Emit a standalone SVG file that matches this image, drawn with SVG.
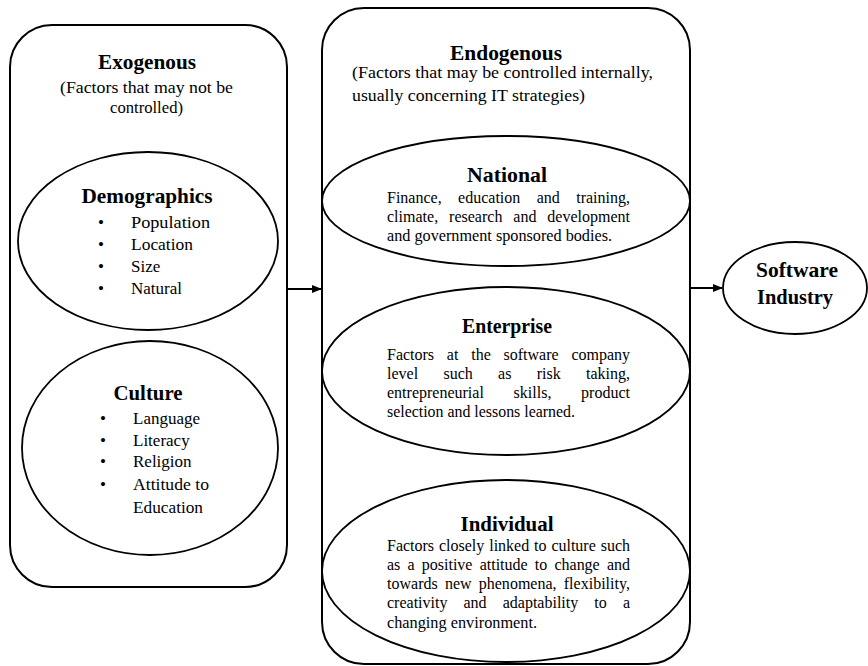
<svg xmlns="http://www.w3.org/2000/svg" width="868" height="666" viewBox="0 0 868 666">
<style>
.box{fill:none;stroke:#000;stroke-width:2}
.ell{fill:none;stroke:#000;stroke-width:1.8}
.h{font-size:21px;font-weight:bold;text-anchor:middle}
.s{font-size:17px}
.b{font-size:16px}
.conn{stroke:#000;stroke-width:2;fill:none}
</style>
<defs>
<marker id="ah" markerWidth="10" markerHeight="8" refX="9" refY="4" orient="auto" markerUnits="userSpaceOnUse">
<path d="M0,0 L10,4 L0,8 z" fill="#000"/>
</marker>
</defs>
<rect width="868" height="666" fill="#fff"/>

<g id="exogenous" font-family="Liberation Serif, serif">
<rect class="box" x="10" y="25" width="277" height="562" rx="42" ry="42"/>
<text class="h" x="147" y="69" textLength="98" lengthAdjust="spacingAndGlyphs">Exogenous</text>
<text class="s" x="60" y="93" textLength="173" lengthAdjust="spacingAndGlyphs">(Factors that may not be</text>
<text class="s" x="110" y="113" textLength="73" lengthAdjust="spacingAndGlyphs">controlled)</text>
</g>

<g id="demographics" font-family="Liberation Serif, serif">
<ellipse class="ell" cx="148" cy="241" rx="130" ry="89"/>
<text class="h" x="147" y="203" textLength="131" lengthAdjust="spacingAndGlyphs">Demographics</text>
<g class="s">
<text x="98" y="228">•</text><text x="131" y="228" textLength="79" lengthAdjust="spacingAndGlyphs">Population</text>
<text x="98" y="250">•</text><text x="131" y="250" textLength="62" lengthAdjust="spacingAndGlyphs">Location</text>
<text x="98" y="272">•</text><text x="131" y="272">Size</text>
<text x="98" y="294">•</text><text x="131" y="294">Natural</text>
</g>
</g>

<g id="culture" font-family="Liberation Serif, serif">
<ellipse class="ell" cx="150" cy="448" rx="128" ry="107"/>
<text class="h" x="148" y="400" textLength="69" lengthAdjust="spacingAndGlyphs">Culture</text>
<g class="s">
<text x="100" y="424">•</text><text x="133" y="424">Language</text>
<text x="100" y="446">•</text><text x="133" y="446">Literacy</text>
<text x="100" y="467">•</text><text x="133" y="467">Religion</text>
<text x="100" y="490">•</text><text x="133" y="490" textLength="76" lengthAdjust="spacingAndGlyphs">Attitude to</text>
<text x="133" y="513" textLength="70" lengthAdjust="spacingAndGlyphs">Education</text>
</g>
</g>

<g id="endogenous" font-family="Liberation Serif, serif">
<rect class="box" x="322" y="8" width="368" height="656" rx="42" ry="42"/>
<text class="h" x="506" y="60" textLength="112" lengthAdjust="spacingAndGlyphs">Endogenous</text>
<text class="s" x="352" y="78" textLength="301" lengthAdjust="spacingAndGlyphs">(Factors that may be controlled internally,</text>
<text class="s" x="352" y="101" textLength="233" lengthAdjust="spacingAndGlyphs">usually concerning IT strategies)</text>
</g>

<g id="national" font-family="Liberation Serif, serif">
<ellipse class="ell" cx="506" cy="201" rx="184" ry="65"/>
<text class="h" x="507" y="182" textLength="80" lengthAdjust="spacingAndGlyphs">National</text>
<g class="b">
<text x="387" y="203" word-spacing="12.4" textLength="243" lengthAdjust="spacing">Finance, education and training,</text>
<text x="387" y="222" word-spacing="6.9" textLength="243" lengthAdjust="spacing">climate, research and development</text>
<text x="387" y="241" textLength="225" lengthAdjust="spacingAndGlyphs">and government sponsored bodies.</text>
</g>
</g>

<g id="enterprise" font-family="Liberation Serif, serif">
<ellipse class="ell" cx="506" cy="371" rx="184" ry="84"/>
<text class="h" x="507" y="333" textLength="90" lengthAdjust="spacingAndGlyphs">Enterprise</text>
<g class="b">
<text x="387" y="360" word-spacing="8.8" textLength="243" lengthAdjust="spacing">Factors at the software company</text>
<text x="387" y="379" word-spacing="21.3" textLength="243" lengthAdjust="spacing">level such as risk taking,</text>
<text x="387" y="398" word-spacing="25.7" textLength="243" lengthAdjust="spacing">entrepreneurial skills, product</text>
<text x="387" y="417" textLength="188" lengthAdjust="spacingAndGlyphs">selection and lessons learned.</text>
</g>
</g>

<g id="individual" font-family="Liberation Serif, serif">
<ellipse class="ell" cx="506" cy="571" rx="184" ry="91"/>
<text class="h" x="507" y="531" textLength="93" lengthAdjust="spacingAndGlyphs">Individual</text>
<g class="b">
<text x="387" y="551" word-spacing="0.9" textLength="243" lengthAdjust="spacing">Factors closely linked to culture such</text>
<text x="387" y="570" word-spacing="3.2" textLength="243" lengthAdjust="spacing">as a positive attitude to change and</text>
<text x="387" y="589" word-spacing="3.1" textLength="243" lengthAdjust="spacing">towards new phenomena, flexibility,</text>
<text x="387" y="608" word-spacing="12.1" textLength="243" lengthAdjust="spacing">creativity and adaptability to a</text>
<text x="387" y="628" textLength="150" lengthAdjust="spacingAndGlyphs">changing environment.</text>
</g>
</g>

<g id="software-industry" font-family="Liberation Serif, serif">
<ellipse class="ell" cx="795" cy="288" rx="72" ry="46"/>
<text class="h" x="797" y="277" textLength="82" lengthAdjust="spacingAndGlyphs">Software</text>
<text class="h" x="795" y="304" textLength="76" lengthAdjust="spacingAndGlyphs">Industry</text>
</g>

<g id="connectors">
<line class="conn" x1="287" y1="289" x2="321" y2="289" marker-end="url(#ah)"/>
<line class="conn" x1="690" y1="288" x2="722" y2="288" marker-end="url(#ah)"/>
</g>
</svg>
